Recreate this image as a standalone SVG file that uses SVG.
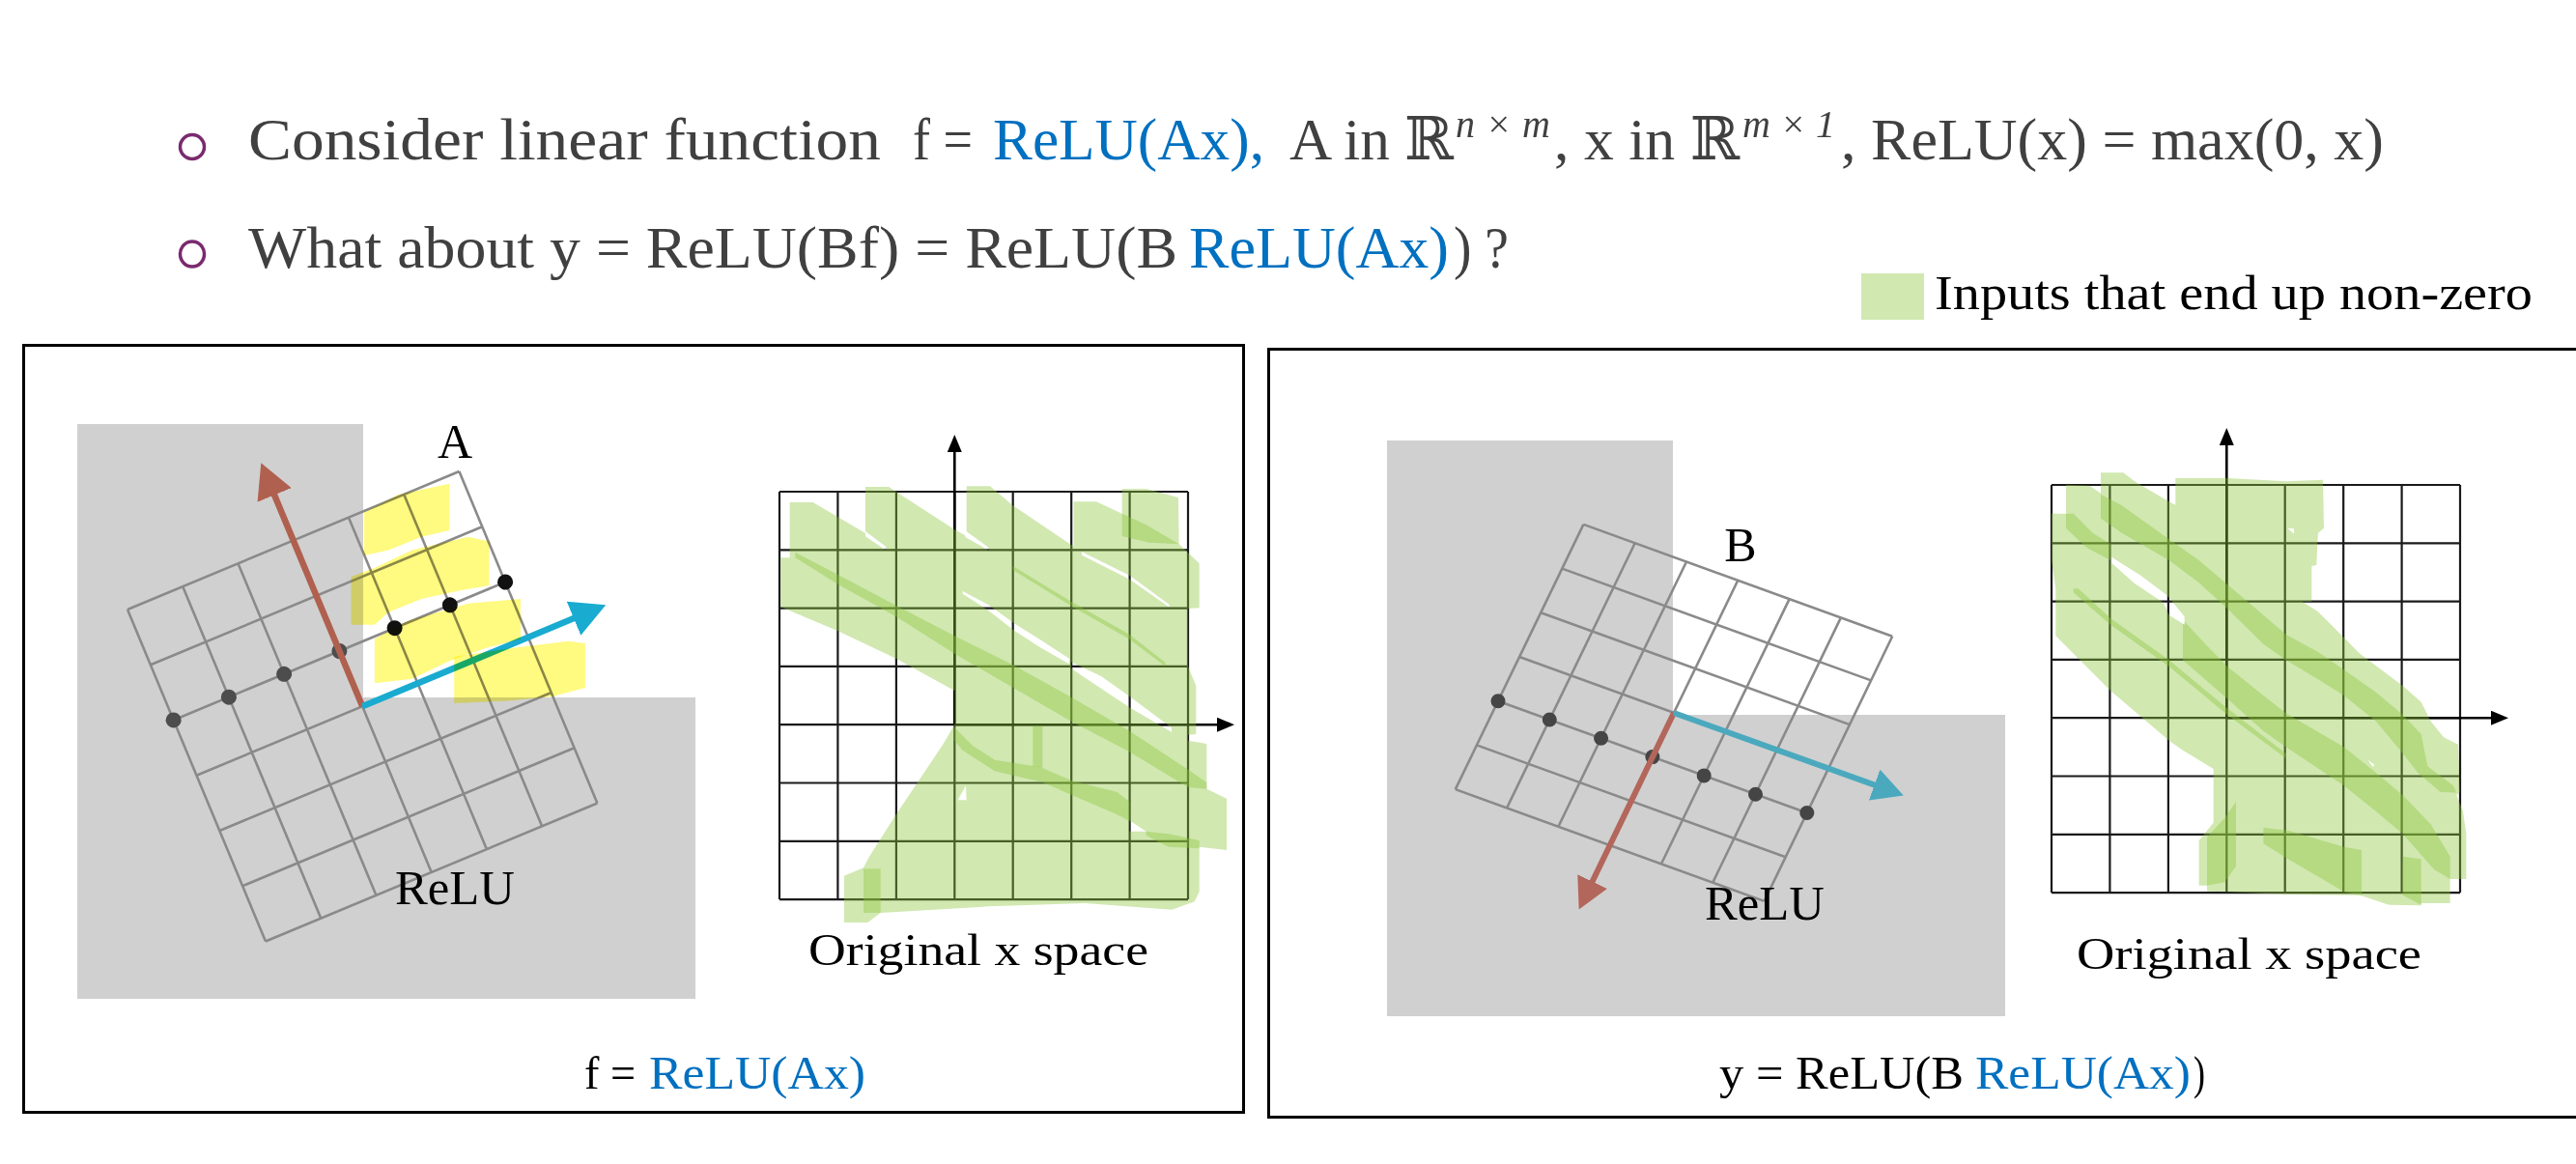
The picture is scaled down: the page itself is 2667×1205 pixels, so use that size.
<svg xmlns="http://www.w3.org/2000/svg" width="2667" height="1205" viewBox="0 0 2667 1205">
<style>
text{font-family:'Liberation Serif','DejaVu Serif',serif}
.t{fill:#404040;font-size:62px}
.sup{fill:#404040;font-size:40px;font-style:italic}
.lbl{fill:#000;font-size:50px}
.cap{fill:#000;font-size:48px}
.os{fill:#000;font-size:47px}
text.blue{fill:#0070c0}
.box{fill:none;stroke:#000;stroke-width:3}
.gray{fill:#d0d0d0}
.rgrid{fill:none;stroke:#8a8a8a;stroke-width:2.6}
.sgrid{fill:none;stroke:#1a1a1a;stroke-width:2.2}
.axis{fill:none;stroke:#000;stroke-width:2.6}
.yel{fill:#fffa80;mix-blend-mode:multiply}
.grn polygon{fill:#8cc63c;fill-opacity:0.4}
.bul{fill:none;stroke:#7a2a6f;stroke-width:3.5}
</style>
<defs>
<marker id="mRedA" markerUnits="userSpaceOnUse" orient="auto" markerWidth="36" markerHeight="38" refX="6" refY="19" viewBox="0 0 36 38"><path d="M0,0 L36,19 L0,38 z" fill="#b0604f"/></marker>
<marker id="mBlueA" markerUnits="userSpaceOnUse" orient="auto" markerWidth="36" markerHeight="38" refX="6" refY="19" viewBox="0 0 36 38"><path d="M0,0 L36,19 L0,38 z" fill="#19abd0"/></marker>
<marker id="mRedB" markerUnits="userSpaceOnUse" orient="auto" markerWidth="32" markerHeight="34" refX="6" refY="17" viewBox="0 0 32 34"><path d="M0,0 L32,17 L0,34 z" fill="#b3665b"/></marker>
<marker id="mBlueB" markerUnits="userSpaceOnUse" orient="auto" markerWidth="32" markerHeight="34" refX="6" refY="17" viewBox="0 0 32 34"><path d="M0,0 L32,17 L0,34 z" fill="#4ba9be"/></marker>
<marker id="mAxis" markerUnits="userSpaceOnUse" orient="auto" markerWidth="18" markerHeight="15" refX="3" refY="7.5" viewBox="0 0 18 15"><path d="M0,0 L18,7.5 L0,15 z" fill="#000"/></marker>
<mask id="slitL" maskUnits="userSpaceOnUse" maskContentUnits="userSpaceOnUse" x="-200" y="-200" width="2000" height="2000">
<rect x="-200" y="-200" width="2000" height="2000" fill="#fff"/>
<g fill="#000">
<polygon points="318,180 382,228 380,238 318,196"/>
<polygon points="628,178 700,230 702,240 628,198"/>
<polygon points="620,366 700,408 780,466 860,516 952,576 950,592 860,540 780,488 700,426 620,374"/>
<polygon points="957,586 1050,630 1140,694 1268,790 1270,804 1140,728 1050,668 957,606"/>
<polygon points="990,244 1140,318 1262,408 1262,416 1140,330 990,254"/>
<polygon points="605,1015 630,970 632,1015"/>
<polygon points="1138,1078 1190,1112 1138,1112"/>
</g>
</mask>
<mask id="slitR" maskUnits="userSpaceOnUse" maskContentUnits="userSpaceOnUse" x="-200" y="-200" width="2000" height="2000">
<rect x="-200" y="-200" width="2000" height="2000" fill="#fff"/>
<g fill="#000">
<polygon points="225,288 320,348 400,408 455,475 455,500 407,470 390,432 300,372 225,305"/>
<polygon points="775,200 795,202 795,218"/>
<polygon points="1025,920 1045,935 1040,942"/>
</g>
</mask>
</defs>
<rect x="0" y="0" width="2667" height="1205" fill="#fff"/>

<g id="title">
<ellipse class="bul" cx="199" cy="152" rx="12.5" ry="12.5"/>
<text class="t" x="257" y="165" textLength="655" lengthAdjust="spacingAndGlyphs">Consider linear function</text>
<text class="t" x="945" y="165" textLength="62" lengthAdjust="spacingAndGlyphs">f =</text>
<text class="t blue" x="1028" y="165" textLength="281" lengthAdjust="spacingAndGlyphs">ReLU(Ax),</text>
<text class="t" x="1335" y="165" textLength="170" lengthAdjust="spacingAndGlyphs">A in ℝ</text>
<text class="sup" x="1507" y="142" textLength="98" lengthAdjust="spacing">n×m</text>
<text class="t" x="1609" y="165" textLength="192" lengthAdjust="spacingAndGlyphs">, x in ℝ</text>
<text class="sup" x="1804" y="142" textLength="96" lengthAdjust="spacing">m×1</text>
<text class="t" x="1906" y="165" textLength="562" lengthAdjust="spacingAndGlyphs">, ReLU(x) = max(0, x)</text>
<ellipse class="bul" cx="199" cy="263" rx="12.5" ry="13"/>
<text class="t" x="257" y="277" textLength="962" lengthAdjust="spacingAndGlyphs">What about y = ReLU(Bf) = ReLU(B</text>
<text class="t blue" x="1231" y="277" textLength="269" lengthAdjust="spacingAndGlyphs">ReLU(Ax)</text>
<text class="t" x="1505" y="277" textLength="57" lengthAdjust="spacingAndGlyphs">) ?</text>
</g>

<g id="legend">
<rect x="1927" y="283" width="65" height="48" fill="#d1e8b1"/>
<text class="lbl" x="2003" y="320" textLength="619" lengthAdjust="spacingAndGlyphs">Inputs that end up non-zero</text>
</g>

<g id="panel-left">
<rect class="box" x="24.5" y="357.5" width="1263" height="794"/>
<polygon class="gray" points="80,439 376,439 376,722 720,722 720,1034 80,1034"/>
<g id="grid-A" transform="translate(132,631) rotate(-22.6)">
<path class="rgrid" d="M0,0V372M62,0V372M124,0V372M186,0V372M248,0V372M310,0V372M372,0V372M0,0H372M0,62H372M0,124H372M0,186H372M0,248H372M0,310H372M0,372H372"/>
<g fill="#4d4d4d"><circle cx="0" cy="124" r="8"/><circle cx="62" cy="124" r="8"/><circle cx="124" cy="124" r="8"/><circle cx="186" cy="124" r="8"/></g>
<g fill="#111"><circle cx="248" cy="124" r="8"/><circle cx="310" cy="124" r="8"/><circle cx="372" cy="124" r="8"/></g>
</g>
<text id="label-A" class="lbl" x="471" y="474" text-anchor="middle">A</text>
<text id="label-relu-A" class="lbl" x="409" y="936" textLength="124" lengthAdjust="spacingAndGlyphs">ReLU</text>

<g id="space-left">
<path class="sgrid" d="M807,509V931.1M867.4,509V931.1M927.9,509V931.1M988.3,509V931.1M1048.7,509V931.1M1109.2,509V931.1M1169.6,509V931.1M1230,509V931.1M807,509H1230M807,569.3H1230M807,629.6H1230M807,689.9H1230M807,750.2H1230M807,810.5H1230M807,870.8H1230M807,931.1H1230"/>
<line class="axis" x1="988.3" y1="750.2" x2="988.3" y2="465" marker-end="url(#mAxis)"/>
<line class="axis" x1="988.3" y1="750.2" x2="1263" y2="750.2" marker-end="url(#mAxis)"/>
<g transform="translate(790,490) scale(0.333333)">
<g class="grn" mask="url(#slitL)">
<polygon points="83,90 155,90 318,186 318,42 390,42 595,175 632,195 632,40 705,40 776,100 957,222 965,226 965,88 1035,88 1115,125 1115,48 1190,48 1290,75 1292,220 1355,280 1355,418 1320,420 1320,600 1345,660 1345,810 1320,812 1320,830 1378,840 1378,980 1440,1010 1440,1170 1355,1160 1355,1300 1340,1330 1270,1355 1000,1335 700,1345 365,1365 325,1395 252,1395 252,1250 312,1225 330,1190 413,1060 500,930 560,840 595,780 595,675 413,575 233,490 55,415 55,262 83,262"/>
<polygon points="100,245 233,315 413,410 595,505 776,595 957,695 1138,800 1320,920 1378,960 1378,980 1320,975 1138,865 957,770 776,665 595,560 413,445 233,345 100,262"/>
<polygon points="1115,125 1190,160 1292,220 1200,215 1115,195"/>
<polygon points="595,790 650,845 720,890 860,912 960,955 1100,990 1138,1020 1138,1080 1100,1060 960,1000 870,960 720,925 620,860 595,830"/>
<polygon points="838,785 868,785 868,915 838,910"/>
<polygon points="312,1228 365,1228 365,1365 312,1365"/>
<polygon points="1190,1112 1260,1120 1355,1140 1355,1165 1260,1160 1190,1125"/>
<polygon points="776,288 957,398 1138,500 1250,588 1250,600 1138,515 957,412 776,300"/>
</g>
</g>
<text class="os" x="837" y="999" textLength="352" lengthAdjust="spacingAndGlyphs">Original x space</text>
</g>
<g id="caption-left">
<text class="cap" x="605" y="1127" textLength="53" lengthAdjust="spacingAndGlyphs">f =</text>
<text class="cap blue" x="672" y="1127" textLength="224" lengthAdjust="spacingAndGlyphs">ReLU(Ax)</text>
</g>
</g>

<g id="panel-right">
<rect class="box" x="1313.5" y="361.5" width="1400" height="795"/>
<polygon class="gray" points="1436,456 1732,456 1732,740 2076,740 2076,1052 1436,1052"/>
<g id="grid-B">
<path class="rgrid" d="M1639.4,542.9L1506.8,817.1M1692.7,562.2L1560.1,836.4M1746,581.5L1613.4,855.7M1799.3,600.8L1666.7,875M1852.6,620.1L1720,894.3M1905.9,639.4L1773.3,913.6M1959.2,658.7L1826.6,932.9M1639.4,542.9L1959.2,658.7M1617.3,588.6L1937.1,704.4M1595.2,634.3L1915,750.1M1573.1,680L1892.9,795.8M1551,725.7L1870.8,841.5M1528.9,771.4L1848.7,887.2M1506.8,817.1L1826.6,932.9"/>
<g fill="#454545">
<circle cx="1551" cy="725.7" r="7.5"/><circle cx="1604.3" cy="745" r="7.5"/><circle cx="1657.6" cy="764.3" r="7.5"/><circle cx="1710.9" cy="783.6" r="7.5"/><circle cx="1764.2" cy="802.9" r="7.5"/><circle cx="1817.5" cy="822.2" r="7.5"/><circle cx="1870.8" cy="841.5" r="7.5"/>
</g>
</g>
<text id="label-B" class="lbl" x="1802" y="581" text-anchor="middle">B</text>
<text id="label-relu-B" class="lbl" x="1765" y="952" textLength="124" lengthAdjust="spacingAndGlyphs">ReLU</text>

<g id="space-right">
<path class="sgrid" d="M2124,502V924.1M2184.4,502V924.1M2244.9,502V924.1M2305.3,502V924.1M2365.7,502V924.1M2426.2,502V924.1M2486.6,502V924.1M2547,502V924.1M2124,502H2547M2124,562.3H2547M2124,622.6H2547M2124,682.9H2547M2124,743.2H2547M2124,803.5H2547M2124,863.8H2547M2124,924.1H2547"/>
<line class="axis" x1="2305.3" y1="743.2" x2="2305.3" y2="458" marker-end="url(#mAxis)"/>
<line class="axis" x1="2305.3" y1="743.2" x2="2582" y2="743.2" marker-end="url(#mAxis)"/>
<g transform="translate(2110,480) scale(0.333333)">
<g class="grn" mask="url(#slitR)">
<polygon points="87,65 160,68 195,92 195,28 265,28 300,55 407,118 427,128 427,45 590,45 770,55 885,50 888,200 870,215 868,245 865,315 850,318 850,428 820,428 870,460 950,540 1000,590 1133,690 1190,740 1220,800 1260,850 1305,872 1310,1020 1300,1030 1320,1080 1330,1150 1330,1290 1280,1290 1280,1365 1190,1365 1190,1372 1090,1370 1000,1340 780,1338 590,1330 525,1328 525,1310 500,1310 500,1170 545,1115 545,948 450,890 407,860 225,705 55,535 55,388 42,300 42,155 87,155"/>
<polygon points="195,95 260,130 407,235 500,300 588,375 700,470 770,530 870,585 950,640 1050,710 1133,780 1190,840 1210,940 1290,1000 1300,1022 1250,1020 1180,960 1133,900 1050,800 950,720 870,670 770,610 700,560 588,450 500,370 407,300 260,215 195,170"/>
<polygon points="450,485 520,560 588,630 700,720 770,775 950,880 1050,960 1133,1030 1220,1120 1280,1220 1280,1290 1230,1260 1133,1150 1050,1080 950,1000 770,880 700,830 588,730 450,610"/>
<polygon points="700,1130 780,1140 950,1190 1005,1200 1005,1340 950,1330 900,1300 780,1230 700,1180"/>
<polygon points="1133,1220 1190,1228 1190,1370 1133,1340"/>
<polygon points="525,1160 580,1100 615,1050 615,1250 580,1300 525,1310"/>
<polygon points="87,155 110,155 170,215 225,250 225,300 150,260 87,200"/>
<polygon points="110,388 125,388 225,480 407,610 588,760 770,900 770,915 588,780 407,630 225,500 110,400"/>
</g>
</g>
<text class="os" x="2150" y="1003" textLength="357" lengthAdjust="spacingAndGlyphs">Original x space</text>
</g>
<g id="caption-right">
<text class="cap" x="1780" y="1127" textLength="253" lengthAdjust="spacingAndGlyphs">y = ReLU(B</text>
<text class="cap blue" x="2045" y="1127" textLength="223" lengthAdjust="spacingAndGlyphs">ReLU(Ax)</text>
<text class="cap" x="2271" y="1127" textLength="12" lengthAdjust="spacingAndGlyphs">)</text>
</g>
</g>

<g id="connectors">
<g transform="translate(132,631) rotate(-22.6)">
<line x1="186" y1="186" x2="186" y2="-57" stroke="#b0604f" stroke-width="6.5" marker-end="url(#mRedA)"/>
<line x1="186" y1="186" x2="429" y2="186" stroke="#19abd0" stroke-width="6.5" marker-end="url(#mBlueA)"/>
</g>
<line x1="1733" y1="738" x2="1646" y2="918" stroke="#b3665b" stroke-width="6" marker-end="url(#mRedB)"/>
<line x1="1733" y1="738" x2="1946.3" y2="814.6" stroke="#4ba9be" stroke-width="6" marker-end="url(#mBlueB)"/>
</g>

<g id="yellow-A">
<polygon class="yel" points="377.1,530.5 412,512.2 465.3,500.7 465.3,548.9 436.3,555.8 402.3,569.6 377.1,575.1"/>
<polygon class="yel" points="363.5,597.1 387.8,587.9 426.6,569.6 484.7,555.8 506.5,560.4 506.5,606.3 477.5,610.9 436.3,620.1 402.3,633.8 387.8,646.7 363.5,646.7"/>
<polygon class="yel" points="387.8,661.4 421.7,643 484.7,624.7 539,620.1 539,661.4 504.1,670.6 465.3,684.3 426.6,702.7 387.8,707.3"/>
<polygon class="yel" points="470.2,679.8 533.2,670.6 588.9,663.7 605.9,666 605.9,711.9 572,721.1 523.5,725.7 470.2,728"/>
</g>
</svg>
